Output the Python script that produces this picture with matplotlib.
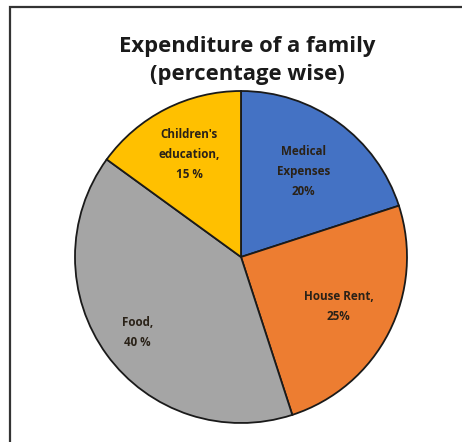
import numpy as np
import matplotlib
matplotlib.use("Agg")
import matplotlib.pyplot as plt
from matplotlib.patches import Rectangle

# expenditure shares (percent)
categories = ["Medical\nExpenses", "House Rent,", "Food,", "Children's\neducation,"]
values = [20, 25, 40, 15]
pct_labels = ["20%", "25%", "40 %", "15 %"]
colors = ["#4472C4", "#ED7D31", "#A5A5A5", "#FFC000"]
label_radius = [0.64, 0.66, 0.77, 0.69]

plt.rcParams["font.family"] = ["Open Sans", "DejaVu Sans"]

fig = plt.figure(figsize=(4.62, 4.42), dpi=100)
ax = fig.add_axes([75 / 462, 19 / 442, 332 / 462, 332 / 442])

wedges, _ = ax.pie(
    values,
    colors=colors,
    startangle=90,
    counterclock=False,
    radius=1.0,
    wedgeprops={"edgecolor": "#1a1a1a", "linewidth": 1.3},
)
ax.set_xlim(-1, 1)
ax.set_ylim(-1, 1)
ax.set_aspect("equal")
ax.axis("off")

for w, cat, pct, r in zip(wedges, categories, pct_labels, label_radius):
    ang = np.deg2rad((w.theta1 + w.theta2) / 2)
    ax.text(r * np.cos(ang), r * np.sin(ang), cat + "\n" + pct,
            ha="center", va="center", fontsize=8.4, fontweight="bold",
            color="#2a2218", linespacing=1.7)

fig.text(0.535, 0.864, "Expenditure of a family\n(percentage wise)",
         ha="center", va="center", fontsize=15.8, fontweight="bold",
         color="#1a1a1a", linespacing=1.45)

# outer frame (only left/top visible in the crop)
fig.patches.append(Rectangle((10 / 462, -0.1), 1.2, 1.1 - 7 / 442,
                             transform=fig.transFigure, fill=False,
                             edgecolor="#333333", linewidth=1.6))

fig.savefig("out.png", dpi=100, facecolor="white")
